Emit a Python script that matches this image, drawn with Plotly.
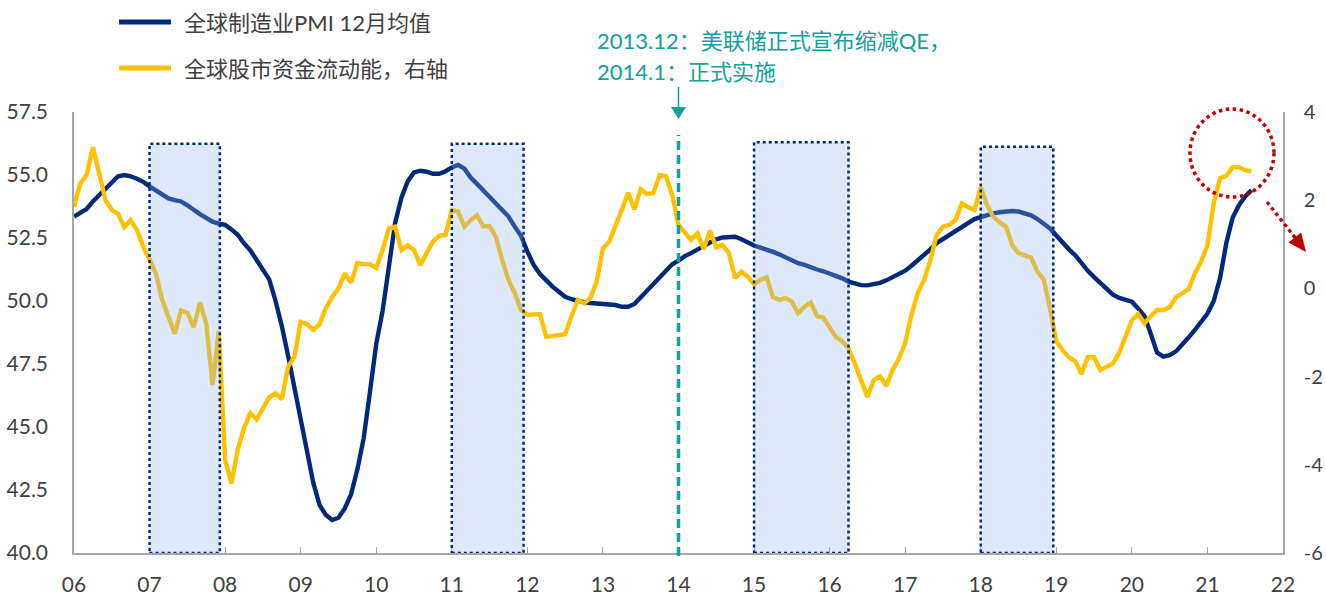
import plotly.graph_objects as go

# ---------------- data (monthly, Jan 2006 - Aug 2021) ----------------
pmi = [
    53.35, 53.5, 53.65, 53.95, 54.2, 54.5, 54.7, 54.95, 55.0, 54.95, 54.85, 54.73,   # 2006
    54.55, 54.4, 54.2, 54.07, 54.0, 53.95, 53.8, 53.6, 53.45, 53.3, 53.15, 53.07,    # 2007
    53.02, 52.84, 52.63, 52.29, 52.01, 51.63, 51.24, 50.86, 50.01, 49.01, 47.83, 46.54,  # 2008
    45.2, 43.86, 42.79, 41.9, 41.51, 41.31, 41.4, 41.77, 42.33, 43.31, 44.55, 46.39,  # 2009
    48.3, 49.6, 51.46, 53.1, 54.1, 54.75, 55.1, 55.17, 55.13, 55.05, 55.05, 55.15,    # 2010
    55.3, 55.4, 55.25, 54.9, 54.65, 54.4, 54.1, 53.85, 53.65, 53.35, 52.95, 52.58,    # 2011
    51.96, 51.43, 51.07, 50.81, 50.57, 50.37, 50.17, 50.07, 49.99, 49.95, 49.92, 49.9,  # 2012
    49.88, 49.87, 49.84, 49.77, 49.77, 49.88, 50.15, 50.4, 50.66, 50.92, 51.23, 51.46,  # 2013
    51.6, 51.78, 51.9, 52.02, 52.18, 52.32, 52.45, 52.52, 52.55, 52.55, 52.45, 52.32,  # 2014
    52.2, 52.12, 52.05, 51.95, 51.85, 51.72, 51.62, 51.5, 51.43, 51.33, 51.25, 51.18,  # 2015
    51.1, 51.0, 50.9, 50.77, 50.68, 50.63, 50.62, 50.65, 50.72, 50.82, 50.95, 51.05,  # 2016
    51.2, 51.4, 51.6, 51.85, 52.05, 52.3, 52.45, 52.65, 52.78, 52.95, 53.1, 53.25,    # 2017
    53.33, 53.42, 53.48, 53.52, 53.56, 53.57, 53.55, 53.47, 53.4, 53.25, 53.08, 52.88,  # 2018
    52.6, 52.3, 52.05, 51.82, 51.5, 51.2, 50.95, 50.7, 50.45, 50.25, 50.12, 50.05,    # 2019
    49.97, 49.7, 49.4, 48.7, 47.95, 47.79, 47.85, 48.0, 48.25, 48.55, 48.85, 49.15,   # 2020
    49.5, 50.0, 50.9, 52.3, 53.3, 53.8, 54.15, 54.4,                                   # 2021
]

flow = [
    1.85, 2.38, 2.57, 3.2, 2.61, 2.0, 1.78, 1.69, 1.39, 1.55, 1.32, 0.95,             # 2006
    0.65, 0.34, -0.26, -0.64, -1.03, -0.5, -0.55, -0.88, -0.32, -0.79, -2.19, -0.96,  # 2007
    -3.89, -4.42, -3.66, -3.17, -2.83, -2.97, -2.72, -2.47, -2.38, -2.51, -1.78, -1.55,  # 2008
    -0.76, -0.81, -0.94, -0.81, -0.45, -0.2, 0.0, 0.34, 0.13, 0.57, 0.55, 0.55,       # 2009
    0.46, 0.87, 1.36, 1.4, 0.87, 0.98, 0.87, 0.53, 0.8, 1.06, 1.19, 1.21,             # 2010
    1.78, 1.74, 1.4, 1.55, 1.66, 1.41, 1.41, 1.17, 0.64, 0.19, -0.11, -0.49,          # 2011
    -0.6, -0.6, -0.58, -1.1, -1.08, -1.06, -1.04, -0.64, -0.26, -0.34, -0.22, 0.15,   # 2012
    0.91, 1.06, 1.4, 1.78, 2.17, 1.79, 2.25, 2.14, 2.16, 2.57, 2.55, 2.12,            # 2013
    1.44, 1.27, 1.1, 1.25, 0.89, 1.31, 0.93, 0.98, 0.8, 0.23, 0.38, 0.27,             # 2014
    0.1, 0.19, 0.25, -0.2, -0.26, -0.22, -0.3, -0.56, -0.42, -0.32, -0.63, -0.66,     # 2015
    -0.87, -1.1, -1.2, -1.36, -1.7, -2.08, -2.46, -2.08, -1.99, -2.21, -1.85, -1.59,  # 2016
    -1.24, -0.6, -0.1, 0.19, 0.64, 1.21, 1.4, 1.44, 1.55, 1.93, 1.84, 1.78,           # 2017
    2.29, 1.89, 1.62, 1.5, 1.4, 0.98, 0.8, 0.75, 0.7, 0.38, 0.2, -0.45,               # 2018
    -1.2, -1.4, -1.56, -1.65, -1.94, -1.56, -1.56, -1.85, -1.78, -1.7, -1.46, -1.1,   # 2019
    -0.72, -0.58, -0.79, -0.63, -0.49, -0.49, -0.43, -0.2, -0.11, -0.02, 0.34, 0.61,  # 2020
    0.98, 1.93, 2.5, 2.55, 2.75, 2.75, 2.68, 2.66,                                     # 2021
]

start_year = 2006
tick_years = list(range(2006, 2023))
tick_labels = ["06", "07", "08", "09", "10", "11", "12", "13", "14",
               "15", "16", "17", "18", "19", "20", "21", "22"]
right_ticks = [-6, -4, -2, 0, 2, 4]
right_tick_labels = ["-6", "-4", "-2", "0", "2", "4"]

shade_start = [2007.0, 2011.0, 2015.0, 2018.0]
shade_end = [2007.93, 2011.95, 2016.25, 2018.96]
shade_top = [56.24, 56.24, 56.3, 56.12]

qe_year = 2014.0
name_pmi = "全球制造业PMI 12月均值"
name_flow = "全球股市资金流动能，右轴"
note_line1 = "2013.12：美联储正式宣布缩减QE，"
note_line2 = "2014.1：正式实施"

# ---------------- styling ----------------
W, H = 1326, 596
ML, MR, MT, MB = 74, 43, 112, 43
PW, PH = W - ML - MR, H - MT - MB
NAVY = "#00297a"
YELLOW = "#ffc000"
TEAL = "#12a09a"
RED = "#c00000"
GREY = "#a6a6a6"
TXT = "#404040"
FONT = "Lato, 'Noto Sans CJK SC', sans-serif"


def fx(px):  # pixel -> paper x (decorations only)
    return (px - ML) / PW


def fy(py):  # pixel -> paper y (decorations only)
    return (H - MB - py) / PH


x = [start_year + i / 12 for i in range(len(pmi))]

fig = go.Figure()
fig.add_trace(go.Scatter(x=x, y=pmi, mode="lines", name=name_pmi,
                         line=dict(color=NAVY, width=4.4), yaxis="y"))
fig.add_trace(go.Scatter(x=x, y=flow, mode="lines", name=name_flow,
                         line=dict(color=YELLOW, width=4.4), yaxis="y2"))

shapes = []
for s, e, t in zip(shade_start, shade_end, shade_top):
    shapes.append(dict(type="rect", xref="x", yref="y", x0=s, x1=e, y0=40.0, y1=t,
                       fillcolor="rgba(141,178,238,0.3)",
                       line=dict(color=NAVY, width=2.5, dash="dot"), layer="above"))

# QE vertical dashed line
shapes.append(dict(type="line", xref="x", yref="paper", x0=qe_year, x1=qe_year,
                   y0=fy(556), y1=fy(135), line=dict(color=TEAL, width=3.5, dash="9px,5px"),
                   layer="above"))
# small arrow above it
shapes.append(dict(type="line", xref="x", yref="paper", x0=qe_year, x1=qe_year,
                   y0=fy(108), y1=fy(87), line=dict(color=TEAL, width=1.5)))
hw = 7.5 / (PW / 16)
shapes.append(dict(type="path", xref="x", yref="paper",
                   path=f"M {qe_year - hw},{fy(107)} L {qe_year + hw},{fy(107)} L {qe_year},{fy(119)} Z",
                   fillcolor=TEAL, line=dict(color=TEAL, width=0)))

# red dotted circle
shapes.append(dict(type="circle", xref="paper", yref="paper",
                   x0=fx(1190), x1=fx(1274), y0=fy(197), y1=fy(109),
                   line=dict(color=RED, width=3.5, dash="dot")))
# red dotted arrow
shapes.append(dict(type="line", xref="paper", yref="paper",
                   x0=fx(1267), y0=fy(202), x1=fx(1297), y1=fy(240),
                   line=dict(color=RED, width=3.5, dash="dot")))
shapes.append(dict(type="path", xref="paper", yref="paper",
                   path=(f"M {fx(1306)},{fy(252)} L {fx(1288.5)},{fy(242.6)} "
                         f"L {fx(1301.1)},{fy(232.6)} Z"),
                   fillcolor=RED, line=dict(color=RED, width=0)))

# legend samples
shapes.append(dict(type="line", xref="paper", yref="paper", x0=fx(119), x1=fx(171),
                   y0=fy(22), y1=fy(22), line=dict(color=NAVY, width=5)))
shapes.append(dict(type="line", xref="paper", yref="paper", x0=fx(119), x1=fx(171),
                   y0=fy(68), y1=fy(68), line=dict(color=YELLOW, width=5)))

annotations = [
    dict(xref="paper", yref="paper", x=fx(182), y=fy(22), text=name_pmi, showarrow=False,
         xanchor="left", yanchor="middle", font=dict(size=22, color=TXT, family=FONT)),
    dict(xref="paper", yref="paper", x=fx(182), y=fy(68), text=name_flow, showarrow=False,
         xanchor="left", yanchor="middle", font=dict(size=22, color=TXT, family=FONT)),
    dict(xref="paper", yref="paper", x=fx(595), y=fy(40), text=note_line1, showarrow=False,
         xanchor="left", yanchor="middle", font=dict(size=22, color=TEAL, family=FONT)),
    dict(xref="paper", yref="paper", x=fx(595), y=fy(72), text=note_line2, showarrow=False,
         xanchor="left", yanchor="middle", font=dict(size=22, color=TEAL, family=FONT)),
]

fig.update_layout(
    width=W, height=H, autosize=False,
    margin=dict(l=ML, r=MR, t=MT, b=MB, autoexpand=False),
    plot_bgcolor="white", paper_bgcolor="white",
    showlegend=False,
    font=dict(family=FONT, size=21, color=TXT),
    xaxis=dict(range=[2006, 2022], tickmode="array", tickvals=tick_years, ticktext=tick_labels,
               showgrid=False, zeroline=False, showline=True, linecolor=GREY, linewidth=1.5,
               ticks="inside", ticklen=6, tickcolor=GREY, tickwidth=1.2,
               tickfont=dict(size=21, color=TXT), ticklabelstandoff=12, automargin=False),
    yaxis=dict(range=[40, 57.5], dtick=2.5, tick0=40, tickformat=".1f", showgrid=False,
               zeroline=False, showline=True, linecolor=GREY, linewidth=1.5, ticks="",
               tickfont=dict(size=21, color=TXT), ticklabelstandoff=20, automargin=False),
    yaxis2=dict(range=[-6, 4], tickmode="array", tickvals=right_ticks,
                ticktext=right_tick_labels, overlaying="y", side="right",
                showgrid=False, zeroline=False, showline=True, linecolor=GREY, linewidth=1.5,
                ticks="", tickfont=dict(size=20, color=TXT), ticklabelstandoff=15,
                automargin=False),
    shapes=shapes,
    annotations=annotations,
)

fig.write_html(
    "out.html",
    config={"displayModeBar": False},
    post_script="document.body.style.margin='0';document.body.style.overflow='hidden';",
)
